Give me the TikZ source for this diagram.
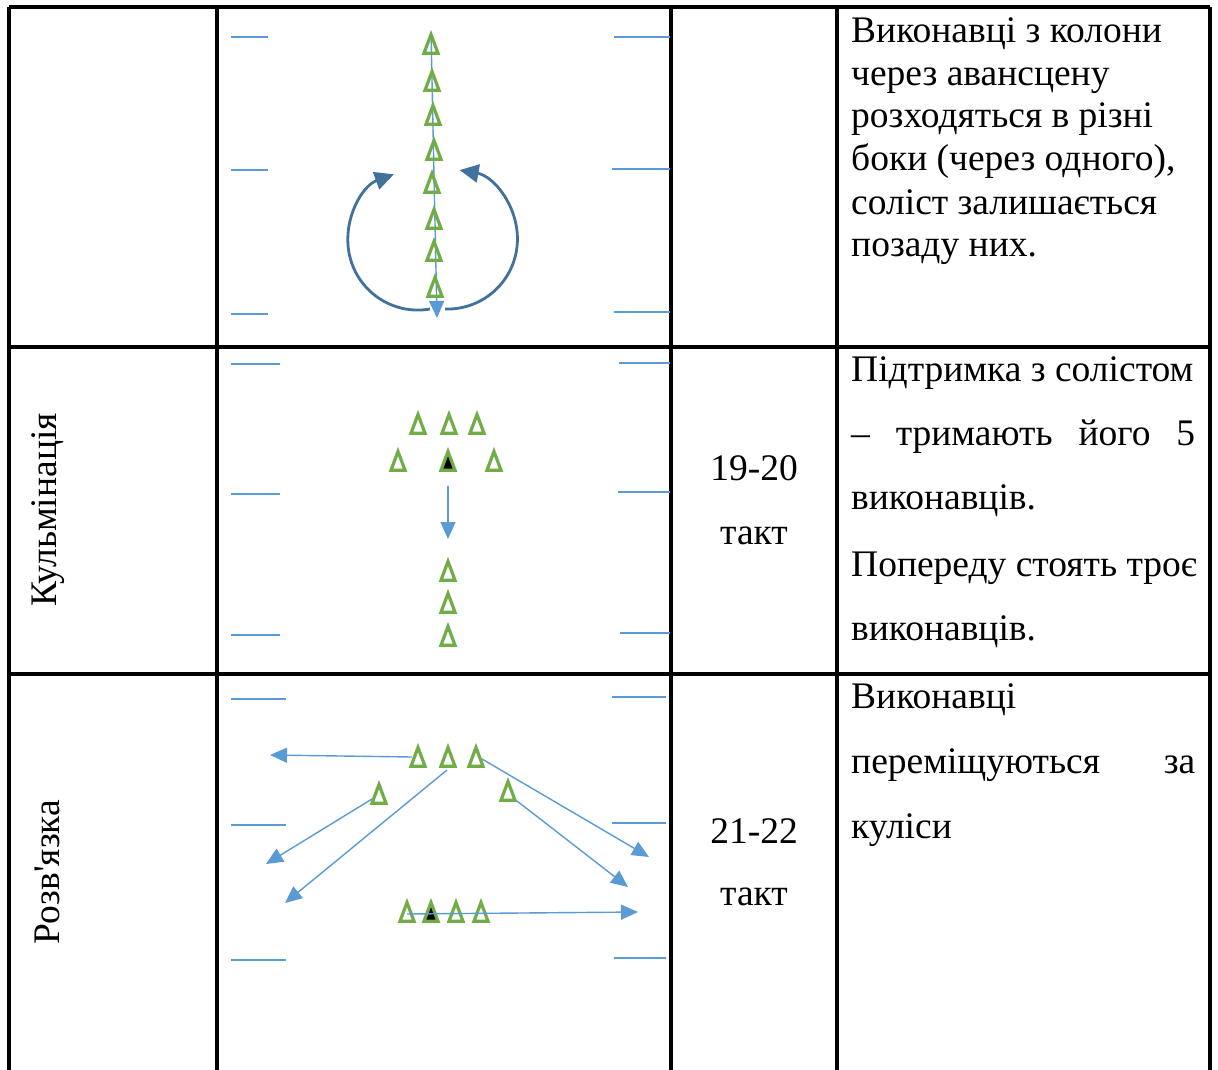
\documentclass[tikz,border=0pt]{standalone}
\usepackage{fontspec}
\setmainfont{Liberation Serif}[Ligatures=TeXOff]
\usetikzlibrary{arrows.meta}
\definecolor{dgreen}{HTML}{70AD47}
\definecolor{lblue}{HTML}{5B9BD5}
\definecolor{dblue}{HTML}{41719C}
\begin{document}
\begin{tikzpicture}[x=1pt,y=-1pt,
  grid/.style={line width=3.2pt, black},
  wing/.style={lblue, line width=1.4pt},
  move/.style={lblue, line width=1.4pt, -{Triangle[length=17pt,width=15pt]}},
  turn/.style={dblue, line width=2.8pt, -{Triangle[length=19pt,width=18pt]}},
  dancer/.pic={\draw[dgreen,line width=3.2pt,line join=miter] (-7,-1.8) -- (0,-20.5) -- (7,-1.8) -- cycle;},
  soloist/.pic={\draw[dgreen,line width=3.2pt,line join=miter,fill=black] (-7,-1.8) -- (0,-20.5) -- (7,-1.8) -- cycle;},
  body/.style={font=\fontsize{37.5}{42.5}\selectfont, anchor=base west, inner sep=0pt},
  mid/.style={font=\fontsize{37.5}{42.5}\selectfont, anchor=base, inner sep=0pt},
  side/.style={font=\fontsize{37.5}{42.5}\selectfont, rotate=90, inner sep=0pt}
]
\useasboundingbox[fill=white] (0,0) rectangle (1218,1070);

% table grid
\draw[grid] (9,7) -- (1210,7);
\draw[grid] (9,347) -- (1210,347);
\draw[grid] (9,674) -- (1210,674);
\foreach \xx in {9,217,671,837,1210} \draw[grid] (\xx,7) -- (\xx,1070);

% wing markers
\draw[wing] (231,37) -- (268,37);  \draw[wing] (231,170) -- (268,170); \draw[wing] (231,314) -- (268,314);
\draw[wing] (614,37) -- (670,37);  \draw[wing] (612,169) -- (670,169); \draw[wing] (614,312) -- (670,312);
\draw[wing] (231,364) -- (280,364); \draw[wing] (231,494) -- (280,494); \draw[wing] (231,635) -- (280,635);
\draw[wing] (619,363) -- (670,363); \draw[wing] (618,492) -- (670,492); \draw[wing] (620,633) -- (670,633);
\draw[wing] (231,699) -- (286,699); \draw[wing] (231,825) -- (286,825); \draw[wing] (231,960) -- (286,960);
\draw[wing] (612,697) -- (666,697); \draw[wing] (612,823) -- (666,823); \draw[wing] (614,958) -- (666,958);

% ---------- row 1 ----------
\coordinate (ctop) at (431,33);
\coordinate (cbot) at (437,318);
\draw[move] (ctop) -- (cbot);
\foreach \xx/\yy in {431/55,432/92,433/126,434/161,432/194,434/230,434/262,435/298}
  \pic at (\xx,\yy) {dancer};
\coordinate (arcL) at (430,309);
\coordinate (arcR) at (445,309);
\draw[turn] (arcL) arc[start angle=80, end angle=250, radius=70];
\draw[turn] (arcR) arc[start angle=92, end angle=-80, radius=70];

% ---------- row 2 ----------
\foreach \xx in {418,449,477} \pic at (\xx,435) {dancer};
\pic at (398,472) {dancer};
\pic at (448,472) {soloist};
\pic at (494,472) {dancer};
\coordinate (s2a) at (448,486);
\coordinate (s2b) at (448,539);
\draw[move] (s2a) -- (s2b);
\foreach \yy in {582,614,647} \pic at (448,\yy) {dancer};

% ---------- row 3 ----------
\foreach \xx in {418,448,476} \pic at (\xx,768) {dancer};
\pic at (379,805) {dancer};
\pic at (508,802) {dancer};
\pic at (407,923) {dancer};
\pic at (431,923) {soloist};
\pic at (456,923) {dancer};
\pic at (481,923) {dancer};
\coordinate (a1s) at (412,757); \coordinate (a1e) at (270,755);
\coordinate (a2s) at (372,799); \coordinate (a2e) at (266,864);
\coordinate (a3s) at (447,770); \coordinate (a3e) at (285,903);
\coordinate (a4s) at (482,759); \coordinate (a4e) at (649,857);
\coordinate (a5s) at (517,801); \coordinate (a5e) at (628,887);
\coordinate (a6s) at (407,914); \coordinate (a6e) at (638,912);
\draw[move] (a1s) -- (a1e);
\draw[move] (a2s) -- (a2e);
\draw[move] (a3s) -- (a3e);
\draw[move] (a4s) -- (a4e);
\draw[move] (a5s) -- (a5e);
\draw[move] (a6s) -- (a6e);

% ---------- text ----------
\node[side] (kulm) at (48,510) {Кульмінація};
\node[side] (rozv) at (47,872) {Розв'язка};

\node[mid] (t1n) at (754,480) {19-20};
\node[mid] (t1t) at (754,544) {такт};
\node[mid] (t2n) at (754,843) {21-22};
\node[mid] (t2t) at (754,905) {такт};

\node[body] (r1a) at (851,43) {Виконавці з колони};
\node[body] (r1b) at (851,86) {через авансцену};
\node[body] (r1c) at (851,128) {розходяться в різні};
\node[body] (r1d) at (851,171) {боки (через одного),};
\node[body] (r1e) at (851,214) {соліст залишається};
\node[body] (r1f) at (851,256) {позаду них.};

\node[body] (r2a) at (851,381) {Підтримка з солістом};
\node[body] (r2b) at (851,445) {\makebox[344pt][s]{– тримають його 5}};
\node[body] (r2c) at (851,509) {виконавців.};
\node[body] (r2d) at (851,576) {Попереду стоять троє};
\node[body] (r2e) at (851,640) {виконавців.};

\node[body] (r3a) at (851,708) {Виконавці};
\node[body] (r3b) at (851,773) {\makebox[344pt][s]{переміщуються за}};
\node[body] (r3c) at (851,838) {куліси};
\end{tikzpicture}
\end{document}
